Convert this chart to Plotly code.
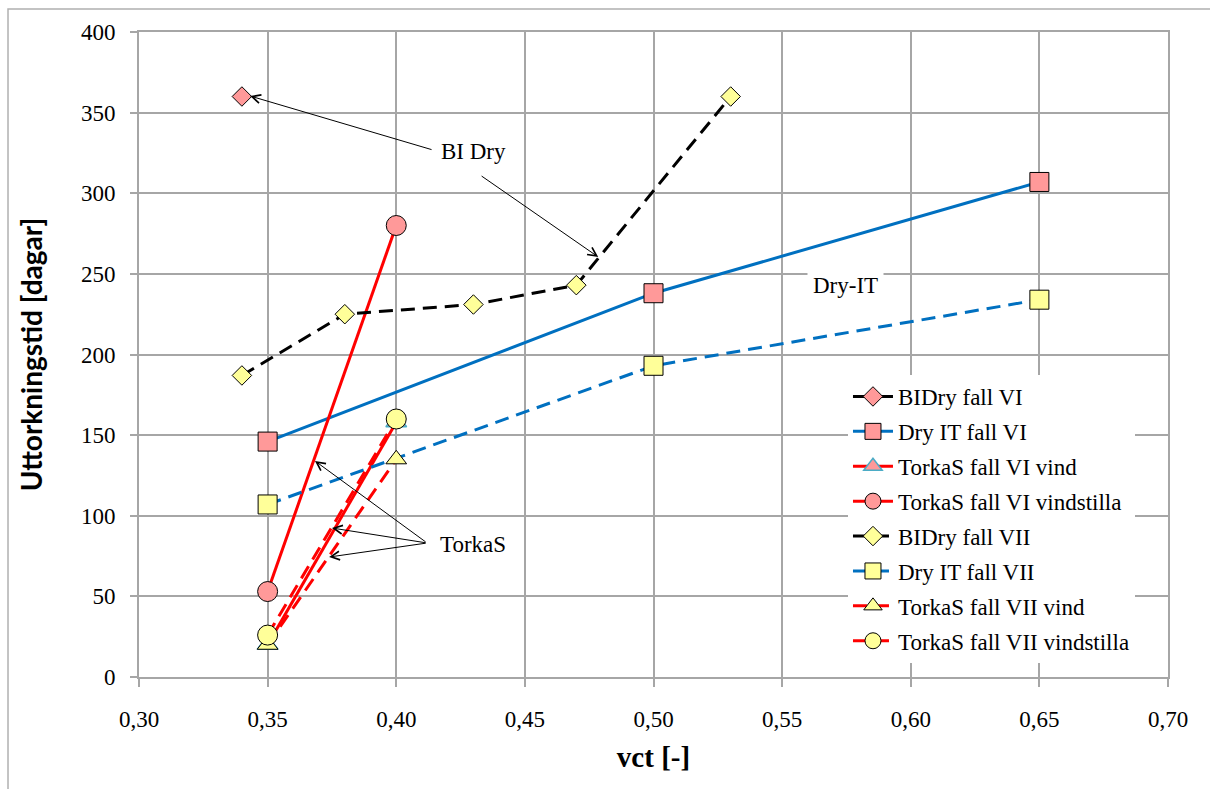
import plotly.graph_objects as go

# ---- data ----
bidry_vi_x = [0.34]
bidry_vi_y = [360]
dryit_vi_x = [0.35, 0.50, 0.65]
dryit_vi_y = [146, 238, 307]
torkas_vi_vind_x = [0.35, 0.40]
torkas_vi_vind_y = [20, 158]
torkas_vi_still_x = [0.35, 0.40]
torkas_vi_still_y = [53, 280]
bidry_vii_x = [0.34, 0.38, 0.43, 0.47, 0.53]
bidry_vii_y = [187, 225, 231, 243, 360]
dryit_vii_x = [0.35, 0.50, 0.65]
dryit_vii_y = [107, 193, 234]
torkas_vii_vind_x = [0.35, 0.40]
torkas_vii_vind_y = [20, 135]
torkas_vii_still_x = [0.35, 0.40]
torkas_vii_still_y = [26, 160]

x_ticks = [0.30, 0.35, 0.40, 0.45, 0.50, 0.55, 0.60, 0.65, 0.70]
x_ticklabels = ["0,30", "0,35", "0,40", "0,45", "0,50", "0,55", "0,60", "0,65", "0,70"]
y_ticks = [0, 50, 100, 150, 200, 250, 300, 350, 400]

BLACK = "#000000"
BLUE = "#0070C0"
RED = "#FF0000"
PINK = "#FF9999"
YELLOW = "#FFFF99"
GRID = "#A6A6A6"
SERIF = "Times New Roman, Liberation Serif, DejaVu Serif, serif"
DASH = "14px,8px"

fig = go.Figure()

def add(name, x, y, color, dash, symbol, fill, size, edge="#000000", ew=1):
    fig.add_trace(go.Scatter(
        x=x, y=y, name=name, mode="lines+markers", legendgroup=name,
        line=dict(color=color, width=3, dash=dash),
        marker=dict(symbol=symbol, size=size, color=fill,
                    line=dict(color=edge, width=ew)),
    ))

add("BIDry fall VI", bidry_vi_x, bidry_vi_y, BLACK, "solid", "diamond", PINK, 15)
add("Dry IT fall VI", dryit_vi_x, dryit_vi_y, BLUE, "solid", "square", PINK, 19)
add("TorkaS fall VI vind", torkas_vi_vind_x, torkas_vi_vind_y, RED, "solid", "triangle-up", PINK, 18, "#4BACC6", 1.5)
add("TorkaS fall VI vindstilla", torkas_vi_still_x, torkas_vi_still_y, RED, "solid", "circle", PINK, 20)
add("BIDry fall VII", bidry_vii_x, bidry_vii_y, BLACK, DASH, "diamond", YELLOW, 15)
add("Dry IT fall VII", dryit_vii_x, dryit_vii_y, BLUE, DASH, "square", YELLOW, 19)
add("TorkaS fall VII vind", torkas_vii_vind_x, torkas_vii_vind_y, RED, DASH, "triangle-up", YELLOW, 18)
add("TorkaS fall VII vindstilla", torkas_vii_still_x, torkas_vii_still_y, RED, DASH, "circle", YELLOW, 20)

annotations = []
annotations.append(dict(x=0.4299, y=325.6, xref="x", yref="y", text="BI Dry", showarrow=False,
                        font=dict(family=SERIF, size=23, color="black")))
annotations.append(dict(x=0.4299, y=81.9, xref="x", yref="y", text="TorkaS", showarrow=False,
                        font=dict(family=SERIF, size=23, color="black")))
annotations.append(dict(x=0.5745, y=243.1, xref="x", yref="y", text="Dry-IT", showarrow=False,
                        bgcolor="white", borderpad=5,
                        font=dict(family=SERIF, size=23, color="black")))
arrows = [
    ((0.3432, 360.3), (0.4143, 326.8)),
    ((0.4785, 260.5), (0.4326, 311.3)),
    ((0.3684, 134.0), (0.4120, 83.1)),
    ((0.3750, 92.4), (0.4120, 83.1)),
    ((0.3739, 74.4), (0.4120, 83.1)),
]
for (hx, hy), (tx, ty) in arrows:
    annotations.append(dict(x=hx, y=hy, ax=tx, ay=ty, xref="x", yref="y", axref="x", ayref="y",
                            text="", showarrow=True, arrowhead=5, arrowsize=1.7, arrowwidth=1,
                            arrowcolor="black", standoff=0, startstandoff=0))

fig.update_layout(
    width=1210, height=789,
    margin=dict(l=139, r=42, t=32, b=112),
    paper_bgcolor="white", plot_bgcolor="white",
    font=dict(family=SERIF),
    showlegend=True,
    legend=dict(x=0.689, y=0.4682, xanchor="left", yanchor="top",
                bgcolor="white", borderwidth=0, tracegroupgap=2, itemwidth=40,
                font=dict(family=SERIF, size=23, color="black")),
    annotations=annotations,
    shapes=[dict(type="rect", xref="paper", yref="paper",
                 x0=-0.1273, x1=1.2, y0=-0.3, y1=1.0357,
                 line=dict(color="#B0B0B0", width=1.5), layer="below")],
)

fig.update_xaxes(
    range=[0.30, 0.70], tickvals=x_ticks, ticktext=x_ticklabels,
    showgrid=True, gridcolor=GRID, gridwidth=1.5,
    showline=True, linecolor=GRID, linewidth=2, mirror=True,
    ticks="outside", ticklen=8, tickcolor=GRID, tickwidth=1.5,
    ticklabelstandoff=12,
    tickfont=dict(family=SERIF, size=23, color="black"),
    title=dict(text="<b>vct [-]</b>", font=dict(family=SERIF, size=29, color="black"), standoff=16),
    zeroline=False,
)
fig.update_yaxes(
    range=[0, 400], tickvals=y_ticks,
    showgrid=True, gridcolor=GRID, gridwidth=1.5,
    showline=True, linecolor=GRID, linewidth=2, mirror=True,
    ticks="outside", ticklen=7, tickcolor=GRID, tickwidth=1.5,
    ticklabelstandoff=10,
    tickfont=dict(family=SERIF, size=23, color="black"),
    title=dict(text="<b>Uttorkningstid [dagar]</b>", font=dict(family="Lato, Open Sans, sans-serif", size=28, color="black"), standoff=30),
    zeroline=False,
)

fig.write_html("out.html")
